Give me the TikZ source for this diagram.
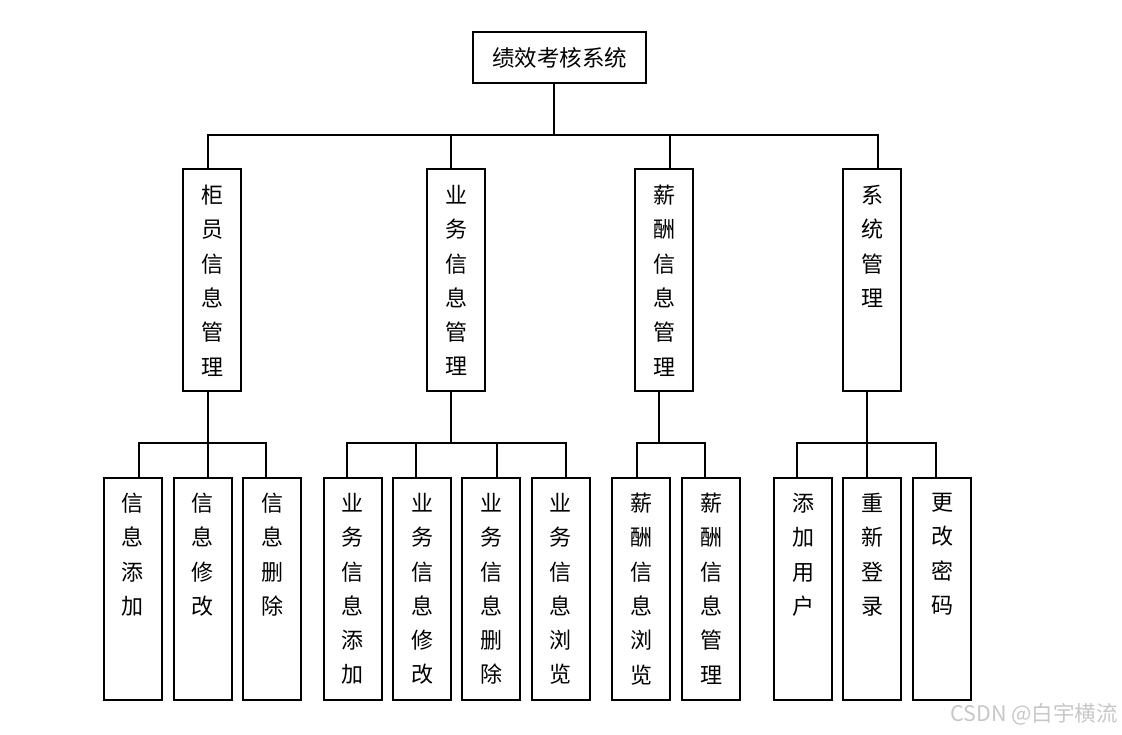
\documentclass[tikz,border=0pt]{standalone}
\usepackage{fontspec}
\newfontfamily\cjk{Noto Sans CJK SC}
\begin{document}
\begin{tikzpicture}[x=1pt,y=-1pt,
  ln/.style={line width=2pt, line cap=rect},
  tbox/.style={draw, line width=2pt, minimum width=58pt, minimum height=222pt, inner sep=0pt},
  vtxt/.style={font=\cjk\fontsize{22}{34.3}\selectfont, align=center, inner sep=0pt, anchor=north},
  wm/.style={font=\cjk\fontsize{21.5}{21.5}\selectfont, text=black!22, inner sep=0pt}]
\useasboundingbox (0,0) rectangle (1122,734);
% root
\node[draw, line width=2pt, minimum width=173pt, minimum height=51pt, inner sep=0pt,
      font=\cjk\fontsize{22.5}{22.5}\selectfont] (root) at (559.5,57.5) {绩效考核系统};
% level 2
\node[tbox] (A) at (212,280) {};
\node[tbox] (B) at (456,280) {};
\node[tbox] (C) at (664,280) {};
\node[tbox] (D) at (872,280) {};
\node[vtxt] (At) at ([yshift=-17pt]A.north) {柜\\员\\信\\息\\管\\理};
\node[vtxt] (Bt) at ([yshift=-17pt]B.north) {业\\务\\信\\息\\管\\理};
\node[vtxt] (Ct) at ([yshift=-17pt]C.north) {薪\\酬\\信\\息\\管\\理};
\node[vtxt] (Dt) at ([yshift=-17pt]D.north) {系\\统\\管\\理};
% level 3
\node[tbox] (a1) at (132.5,589) {};
\node[tbox] (a2) at (202.5,589) {};
\node[tbox] (a3) at (272,589) {};
\node[tbox] (b1) at (352.5,589) {};
\node[tbox] (b2) at (422,589) {};
\node[tbox] (b3) at (491,589) {};
\node[tbox] (b4) at (560.5,589) {};
\node[tbox] (c1) at (641,589) {};
\node[tbox] (c2) at (711,589) {};
\node[tbox] (d1) at (803,589) {};
\node[tbox] (d2) at (872,589) {};
\node[tbox] (d3) at (942,589) {};
\node[vtxt] (a1t) at ([yshift=-16pt]a1.north) {信\\息\\添\\加};
\node[vtxt] (a2t) at ([yshift=-16pt]a2.north) {信\\息\\修\\改};
\node[vtxt] (a3t) at ([yshift=-16pt]a3.north) {信\\息\\删\\除};
\node[vtxt] (b1t) at ([yshift=-16pt]b1.north) {业\\务\\信\\息\\添\\加};
\node[vtxt] (b2t) at ([yshift=-16pt]b2.north) {业\\务\\信\\息\\修\\改};
\node[vtxt] (b3t) at ([yshift=-16pt]b3.north) {业\\务\\信\\息\\删\\除};
\node[vtxt] (b4t) at ([yshift=-16pt]b4.north) {业\\务\\信\\息\\浏\\览};
\node[vtxt] (c1t) at ([yshift=-16pt]c1.north) {薪\\酬\\信\\息\\浏\\览};
\node[vtxt] (c2t) at ([yshift=-16pt]c2.north) {薪\\酬\\信\\息\\管\\理};
\node[vtxt] (d1t) at ([yshift=-16pt]d1.north) {添\\加\\用\\户};
\node[vtxt] (d2t) at ([yshift=-16pt]d2.north) {重\\新\\登\\录};
\node[vtxt] (d3t) at ([yshift=-16pt]d3.north) {更\\改\\密\\码};
% bus coordinates
\coordinate (bus1) at (0,134.5);
\coordinate (bus2) at (0,443);
% top connectors
\draw[ln] ([xshift=-5.5pt]root.south) -- ([xshift=-5.5pt]root.south |- bus1);
\draw[ln] ([xshift=-4.5pt]A.north) |- ([xshift=5.7pt]D.north |- bus1) -- ([xshift=5.7pt]D.north);
\draw[ln] ([xshift=-5.5pt]B.north) -- ([xshift=-5.5pt]B.north |- bus1);
\draw[ln] ([xshift=6pt]C.north) -- ([xshift=6pt]C.north |- bus1);
% group A
\draw[ln] ([xshift=-4.5pt]A.south) -- ([xshift=-4.5pt]A.south |- bus2);
\draw[ln] ([xshift=6.5pt]a1.north) |- ([xshift=-6.3pt]a3.north |- bus2) -- ([xshift=-6.3pt]a3.north);
\draw[ln] ([xshift=5.2pt]a2.north) -- ([xshift=5.2pt]a2.north |- bus2);
% group B
\draw[ln] ([xshift=-5.5pt]B.south) -- ([xshift=-5.5pt]B.south |- bus2);
\draw[ln] ([xshift=-5.8pt]b1.north) |- ([xshift=5.2pt]b4.north |- bus2) -- ([xshift=5.2pt]b4.north);
\draw[ln] ([xshift=-6.3pt]b2.north) -- ([xshift=-6.3pt]b2.north |- bus2);
\draw[ln] ([xshift=6pt]b3.north) -- ([xshift=6pt]b3.north |- bus2);
% group C
\draw[ln] ([xshift=-5pt]C.south) -- ([xshift=-5pt]C.south |- bus2);
\draw[ln] ([xshift=-4.3pt]c1.north) |- ([xshift=-6pt]c2.north |- bus2) -- ([xshift=-6pt]c2.north);
% group D
\draw[ln] ([xshift=-5.3pt]D.south) -- ([xshift=-5.3pt]D.south |- bus2);
\draw[ln] ([xshift=-6pt]d1.north) |- ([xshift=-6.3pt]d3.north |- bus2) -- ([xshift=-6.3pt]d3.north);
\draw[ln] ([xshift=-5.3pt]d2.north) -- ([xshift=-5.3pt]d2.north |- bus2);
% watermark
\node[wm, anchor=east] (wmk) at (1118,714) {CSDN @白宇横流};
\end{tikzpicture}
\end{document}
